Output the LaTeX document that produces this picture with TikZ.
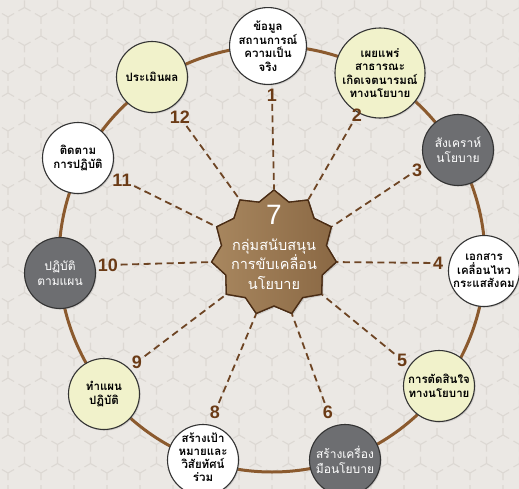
\documentclass[tikz,border=0pt]{standalone}
\usepackage{fontspec}
\setmainfont{Liberation Sans}
\newfontfamily\thaifont[Script=Thai]{Loma}
\usetikzlibrary{shapes.geometric,shadows}
\definecolor{bgc}{HTML}{EBE8E4}
\definecolor{hexc}{HTML}{DCD8D3}
\definecolor{ringc}{HTML}{8B5A2E}
\definecolor{dashc}{HTML}{6E4524}
\definecolor{numc}{HTML}{6B3B16}
\definecolor{yellowc}{HTML}{F1F2CB}
\definecolor{grayc}{HTML}{6D6E71}
\definecolor{borderc}{HTML}{333333}
\definecolor{starlight}{HTML}{A8875F}
\definecolor{stardark}{HTML}{8A6844}
\definecolor{starborder}{HTML}{4A2C14}
\tikzset{
  hexline/.style={draw=hexc, line width=1.1pt},
  stepnode/.style={circle, minimum size=71pt, inner sep=0pt, draw=borderc, line width=1.1pt,
    align=center, font=\thaifont\bfseries\fontsize{11.5}{13.5}\selectfont,
    drop shadow={opacity=0.25, shadow xshift=1.2pt, shadow yshift=-1.2pt}},
  whitenode/.style={stepnode, fill=white, text=black},
  yellownode/.style={stepnode, fill=yellowc, text=black},
  graynode/.style={stepnode, fill=grayc, text=white, font=\thaifont\fontsize{12}{15}\selectfont},
  numlabel/.style={text=numc, font=\bfseries\fontsize{18}{18}\selectfont, inner sep=2.5pt},
  spoke/.style={draw=dashc, line width=1.8pt, dash pattern=on 7pt off 4.5pt},
  hubstar/.style={star, star points=11, star point ratio=1.19, minimum size=126pt, inner sep=0pt,
    draw=starborder, line width=1.3pt, left color=starlight, right color=stardark},
}
\begin{document}
\begin{tikzpicture}[x=1pt,y=-1pt]
\useasboundingbox (0,0) rectangle (519,489);
\fill[bgc] (0,0) rectangle (519,489);
\begin{scope}
\clip (0,0) rectangle (519,489);
\foreach \j in {0,...,19}{
  \foreach \i in {-1,...,16}{
    \pgfmathsetmacro{\cx}{\i*33+mod(\j,2)*16.5+8}
    \pgfmathsetmacro{\cy}{\j*28.5-2}
    \draw[hexline] (\cx,\cy-19) -- ++(0,-7) (\cx,\cy-19) -- ++(6.06,3.5) (\cx,\cy-19) -- ++(-6.06,3.5)
                   (\cx,\cy+19) -- ++(0,7) (\cx,\cy+19) -- ++(6.06,-3.5) (\cx,\cy+19) -- ++(-6.06,-3.5);
  }
}
\end{scope}
% ring
\coordinate (ringc) at (272,259);
\draw[ringc, line width=3pt] (ringc) circle[radius=213];
% star (hub) with shadow
\node[hubstar, drop shadow={opacity=0.3, shadow xshift=1.5pt, shadow yshift=-1.5pt}] (hub) at (274,253) {};
% step nodes
\node[whitenode] (s1) at (268,46) {ข้อมูล\\สถานการณ์\\ความเป็น\\จริง};
\node[yellownode] (s2) at (380,73) {เผยแพร่\\สาธารณะ\\เกิดเจตนารมณ์\\ทางนโยบาย};
\node[graynode] (s3) at (458,150) {สังเคราห์\\นโยบาย};
\node[whitenode] (s4) at (484,271) {เอกสาร\\เคลื่อนไหว\\กระแสสังคม};
\node[yellownode] (s5) at (439,386) {การตัดสินใจ\\ทางนโยบาย};
\node[graynode] (s6) at (345,460) {สร้างเครื่อง\\มือนโยบาย};
\node[whitenode] (s8) at (203,460) {};
\node[align=center, font=\thaifont\bfseries\fontsize{11.5}{13}\selectfont, inner sep=0pt] (s8text) at (203,457)
  {สร้างเป้า\\หมายและ\\วิสัยทัศน์\\ร่วม};
\node[yellownode] (s9) at (104,394) {ทำแผน\\ปฏิบัติ};
\node[graynode] (s10) at (60,273) {ปฏิบัติ\\ตามแผน};
\node[whitenode] (s11) at (78,158) {ติดตาม\\การปฏิบัติ};
\node[yellownode] (s12) at (152,77) {ประเมินผล};
% numbers
\node[numlabel] (num1) at (272,95) {1};
\node[numlabel] (num2) at (357,115) {2};
\node[numlabel] (num3) at (417,170) {3};
\node[numlabel] (num4) at (438,263) {4};
\node[numlabel] (num5) at (402,360) {5};
\node[numlabel] (num6) at (328,412) {6};
\node[numlabel] (num8) at (215,412) {8};
\node[numlabel] (num9) at (137,362) {9};
\node[numlabel] (num10) at (108,265) {10};
\node[numlabel] (num11) at (122,180) {11};
\node[numlabel] (num12) at (180,117) {12};
% spokes
\draw[spoke] (num1) -- (hub.outer point 1);
\draw[spoke] (num12) -- (hub.outer point 2);
\draw[spoke] (num11) -- (hub.outer point 3);
\draw[spoke] (num10) -- (hub.outer point 4);
\draw[spoke] (num9) -- (hub.outer point 5);
\draw[spoke] (num8) -- (hub.outer point 6);
\draw[spoke] (num6) -- (hub.outer point 7);
\draw[spoke] (num5) -- (hub.outer point 8);
\draw[spoke] (num4) -- (hub.outer point 9);
\draw[spoke] (num3) -- (hub.outer point 10);
\draw[spoke] (num2) -- (hub.outer point 11);
% star drawn again on top of the spoke ends
\node[hubstar] (hubtop) at (274,253) {};
\node[text=white, font=\fontsize{28}{28}\selectfont] (hubnum) at (274,215) {7};
\node[text=white, align=center, font=\thaifont\fontsize{14.5}{19.5}\selectfont] (hubtext) at (274,264)
  {กลุ่มสนับสนุน\\การขับเคลื่อน\\นโยบาย};
\end{tikzpicture}
\end{document}
